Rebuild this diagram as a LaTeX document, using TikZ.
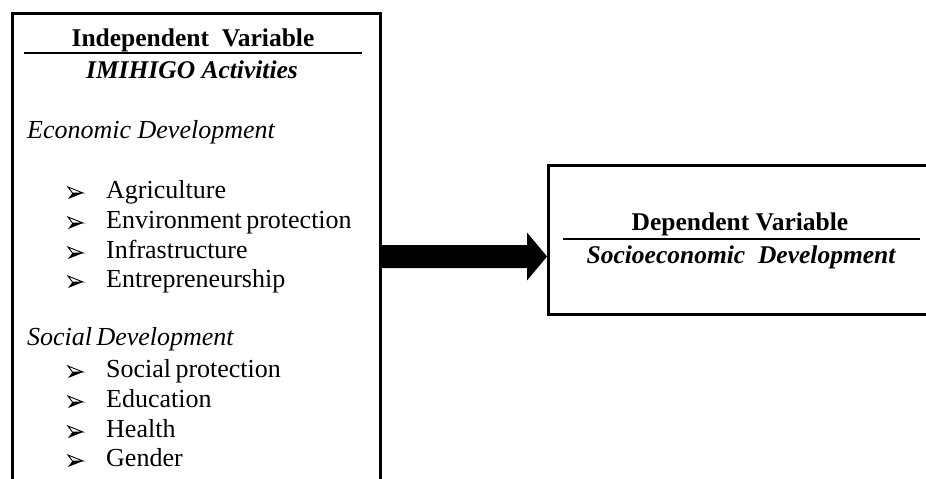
\documentclass[tikz,border=0pt]{standalone}
\usepackage{fontspec}
\setmainfont{Liberation Serif}
\usetikzlibrary{calc}
\begin{document}
\begin{tikzpicture}[x=1pt,y=-1pt,
  frame/.style={draw, line width=3pt, inner sep=0pt, anchor=north west},
  txt/.style={inner sep=0pt, anchor=base west, font=\fontsize{26}{30}\selectfont},
  itx/.style={txt, font=\fontsize{26}{30}\selectfont\itshape},
  ttl/.style={inner sep=0pt, anchor=base, font=\fontsize{25.5}{30}\selectfont\bfseries},
  sub/.style={inner sep=0pt, anchor=base, font=\fontsize{25.5}{30}\selectfont\bfseries\itshape},
  rule/.style={line width=1.6pt},
  arrbullet/.pic={
    \draw[line width=0.9pt, line join=miter] (0,-11) -- (15,-5) -- (4.5,-5) -- cycle;
    \fill (4.5,-5) -- (15,-5) -- (0,1) -- cycle;
  }
]
\clip (0,0) rectangle (926,479);
\fill[white] (0,0) rectangle (926,479);
% boxes
\node[frame, minimum width=368.5pt, minimum height=490pt] (L) at (10.5,12) {};
\node[frame, minimum width=400pt, minimum height=149pt] (R) at (547,164) {};
% left box content
\node[ttl] (t1) at (193,46) {Independent\ \ Variable};
\draw[rule] (24,53) coordinate (u1a) -- (362,53) coordinate (u1b);
\node[sub] (s1) at (192,78) {IMIHIGO Activities};
\node[itx] (eco) at (27,138) {Economic Development};
\foreach \y/\t [count=\i] in {198/Agriculture,228/Environment\,protection,258/Infrastructure,287/Entrepreneurship}{
  \pic at (68,\y) {arrbullet};
  \node[txt] (ei\i) at (106,\y) {\t};
}
\node[itx] (soc) at (27,345) {Social\,Development};
\foreach \y/\t [count=\i] in {377/Social\,protection,407/Education,437/Health,466/Gender}{
  \pic at (68,\y) {arrbullet};
  \node[txt] (si\i) at (106,\y) {\t};
}
% right box content
\node[ttl] (t2) at (740,230) {Dependent Variable};
\draw[rule] (563,239) coordinate (u2a) -- (920,239) coordinate (u2b);
\node[sub] (s2) at (741,263) {Socioeconomic\ \ Development};
% block arrow
\coordinate (a0) at (L.east |- 0,256.5);
\coordinate (a1) at (R.west |- 0,256.5);
\fill ($(a0)+(0,-11.5)$) -- ($(a1)+(-20,-11.5)$) -- ($(a1)+(-20,-24)$) -- (a1)
  -- ($(a1)+(-20,24)$) -- ($(a1)+(-20,11.5)$) -- ($(a0)+(0,11.5)$) -- cycle;
\end{tikzpicture}
\end{document}
